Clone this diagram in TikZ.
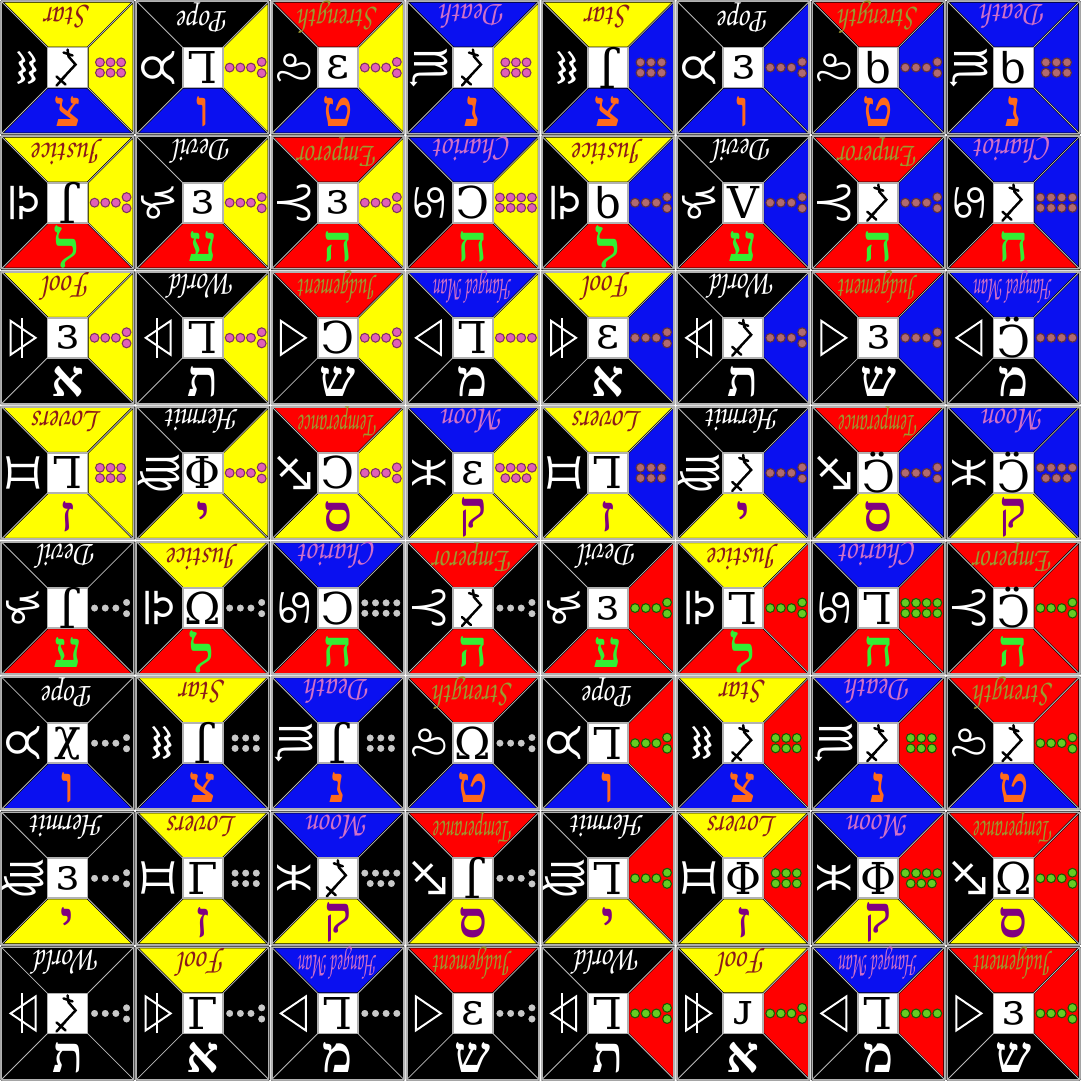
\documentclass[tikz,border=0pt]{standalone}
\usepackage[T1,TU]{fontenc}
\usepackage{fontspec}
\newfontfamily\hebf[Script=Hebrew]{Liberation Serif}
\newfontfamily\symf{DejaVu Sans}
\newfontfamily\glf{DejaVu Serif}
\newcommand\scrf{\fontencoding{T1}\fontfamily{pzc}\fontseries{mb}\fontshape{it}\selectfont}
\newsavebox\nmbox
\newcommand\fitname[1]{\sbox\nmbox{#1}\ifdim\wd\nmbox>0.95cm\resizebox{0.78cm}{\ht\nmbox}{\usebox\nmbox}\else\scalebox{0.82}[1]{\usebox\nmbox}\fi}
\definecolor{fillY}{HTML}{FFFF00}
\definecolor{fillB}{HTML}{0A10F0}
\definecolor{fillR}{HTML}{FF0000}
\definecolor{fillK}{HTML}{000000}
\definecolor{ttxtY}{HTML}{8B1A1A}
\definecolor{ttxtK}{HTML}{FFFFFF}
\definecolor{ttxtR}{HTML}{9A9A30}
\definecolor{ttxtB}{HTML}{D070C8}
\definecolor{letY}{HTML}{800080}
\definecolor{letK}{HTML}{FFFFFF}
\definecolor{letR}{HTML}{33EE33}
\definecolor{letB}{HTML}{FF6A1A}
\definecolor{dotfY}{HTML}{E060B8}
\definecolor{dotdY}{HTML}{803060}
\definecolor{dotfB}{HTML}{B06A70}
\definecolor{dotdB}{HTML}{603040}
\definecolor{dotfK}{HTML}{C8C8C8}
\definecolor{dotfR}{HTML}{66CC22}
\definecolor{dotdR}{HTML}{1A5A00}
\tikzset{
 edge/.style={draw=black, line width=0.55pt, line join=round},
 diag/.style={draw=gray!55, line width=0.25pt},
 tileframe/.style={draw=gray!60, line width=0.4pt},
 sqbox/.style={draw=gray!60, fill=white, line width=0.5pt, minimum size=0.4cm, inner sep=0pt},
 cardtxt/.style={font=\scrf\fontsize{10}{10}\selectfont, rotate=180, inner sep=0pt},
 hebtxt/.style={font=\hebf\bfseries\fontsize{14.5}{14.5}\selectfont, inner sep=0pt},
 zodtxt/.style={font=\symf\fontsize{13}{13}\selectfont, text=white, rotate=-90, inner sep=0pt},
 elem/.style={draw=white, line width=0.55pt, line join=miter},
 gltxt/.style={font=\glf\fontsize{12.5}{13}\selectfont, inner sep=0pt},
 glpath/.style={draw=black, line width=0.7pt, line cap=round},
 dotY/.style={fill=dotfY, draw=dotdY, line width=0.3pt},
 dotB/.style={fill=dotfB, draw=dotdB, line width=0.3pt},
 dotK/.style={fill=dotfK},
 dotR/.style={fill=dotfR, draw=dotdR, line width=0.3pt}
}
% dot patterns
\newcommand\dotpativ[1]{\foreach \a/\b in {-16/0,-5.3/0,5.3/0,16/0}{\filldraw[#1] (43+\a,\b) circle (4.4);}}
\newcommand\dotpatv[1]{\foreach \a/\b in {-16/0,-5.3/0,5.3/0,16/5.6,16/-5.6}{\filldraw[#1] (43+\a,\b) circle (4.4);}}
\newcommand\dotpatvi[1]{\foreach \a/\b in {-10.6/5.2,0/5.2,10.6/5.2,-10.6/-5.2,0/-5.2,10.6/-5.2}{\filldraw[#1] (43+\a,\b) circle (4.4);}}
\newcommand\dotpatvii[1]{\foreach \a/\b in {-16/5.2,-5.3/5.2,5.3/5.2,16/5.2,-10.6/-5.2,0/-5.2,10.6/-5.2}{\filldraw[#1] (43+\a,\b) circle (4.4);}}
\newcommand\dotpatviii[1]{\foreach \a/\b in {-16/5.2,-5.3/5.2,5.3/5.2,16/5.2,-16/-5.2,-5.3/-5.2,5.3/-5.2,16/-5.2}{\filldraw[#1] (43+\a,\b) circle (4.4);}}
% left symbols
\newcommand\zod[1]{\node[zodtxt] (zd-\tid) at (-44,0) {#1};}
\newcommand\elFire{\draw[elem] (-57,17) -- (-32,0) -- (-57,-17) -- cycle;}
\newcommand\elWater{\draw[elem] (-32,17) -- (-57,0) -- (-32,-17) -- cycle;}
\newcommand\elAir{\elFire\draw[elem] (-46,-20) -- (-46,20);}
\newcommand\elEarth{\elWater\draw[elem] (-46,-20) -- (-46,20);}
% centre glyphs
\newcommand\glyX{\draw[glpath] (-4,15)--(5,12) (0,18)--(1,11)--(8,3)--(-6,-12) (-11,-18)--(-2,-8) (-11,-9)--(-2,-17);}
\newcommand\glyL{\node[gltxt] (gl-\tid) at (0,0) {\rotatebox{180}{L}};}
\newcommand\glyE{\node[gltxt] (gl-\tid) at (0,0) {ɜ};}
\newcommand\glyEps{\node[gltxt] (gl-\tid) at (0,0) {ε};}
\newcommand\glyC{\node[gltxt] (gl-\tid) at (0,0) {\scalebox{-1}[1]{C}};}
\newcommand\glyCd{\node[gltxt] (gl-\tid) at (0,0) {\scalebox{-1}[1]{C̈}};}
\newcommand\glyJ{\node[gltxt] (gl-\tid) at (0,0) {\rotatebox{180}{J}};}
\newcommand\glyB{\node[gltxt] (gl-\tid) at (0,0) {\scalebox{1}[-1]{ρ}};}
\newcommand\glyV{\node[gltxt] (gl-\tid) at (0,0) {V};}
\newcommand\glyO{\node[gltxt] (gl-\tid) at (0,0) {Ω};}
\newcommand\glyP{\node[gltxt] (gl-\tid) at (0,0) {Φ};}
\newcommand\glyK{\node[gltxt] (gl-\tid) at (0,0) {χ};}
\newcommand\glyG{\node[gltxt] (gl-\tid) at (0,0) {Γ};}
\newcommand\glyS{\node[gltxt] (gl-\tid) at (0,0) {\rotatebox{180}{ɾ}};}
% tile: #1 col #2 row #3 glyph #4 name #5 top #6 bottom #7 hebrew #8 left #9 dots
\newcommand\drawtile[9]{%
 \pgfmathsetmacro\cx{135.125*(#1+0.5)}%
 \pgfmathsetmacro\cy{1081-135.125*(#2+0.5)}%
 \def\tid{#1-#2}%
 \ifnum#2<4 \ifnum#1<4 \def\rk{Y}\else\def\rk{B}\fi\else\ifnum#1<4 \def\rk{K}\else\def\rk{R}\fi\fi
 \begin{scope}[shift={(\cx,\cy)}]
  \fill[black] (-66,-66) rectangle (66,66);
  \filldraw[fill=fill#5, edge] (-66,66) -- (66,66) -- (20,20) -- (-20,20) -- cycle;
  \filldraw[fill=fill#6, edge] (-66,-66) -- (66,-66) -- (20,-20) -- (-20,-20) -- cycle;
  \filldraw[fill=fill\rk, edge] (66,66) -- (66,-66) -- (20,-20) -- (20,20) -- cycle;
  \filldraw[fill=black, edge] (-66,66) -- (-66,-66) -- (-20,-20) -- (-20,20) -- cycle;
  \draw[diag] (-66,66)--(-20,20) (66,66)--(20,20) (66,-66)--(20,-20) (-66,-66)--(-20,-20);
  \draw[tileframe] (-66,-66) rectangle (66,66);
  \node[sqbox] (sq-\tid) at (0,0) {};
  \node[cardtxt, text=ttxt#5] (nm-\tid) at (0,51) {\fitname{#4}};
  \node[hebtxt, text=let#6] (hb-\tid) at (0,-44) {#7};
  #8
  \csname dotpat\romannumeral#9\endcsname{dot\rk}
  #3
 \end{scope}}
\newcommand\cStar[3]{\drawtile{#1}{#2}{#3}{Star}{Y}{B}{צ}{\zod{♒}}{6}}
\newcommand\cPope[3]{\drawtile{#1}{#2}{#3}{Pope}{K}{B}{ו}{\zod{♉}}{5}}
\newcommand\cStrength[3]{\drawtile{#1}{#2}{#3}{Strength}{R}{B}{ט}{\zod{♌}}{5}}
\newcommand\cDeath[3]{\drawtile{#1}{#2}{#3}{Death}{B}{B}{נ}{\zod{♏}}{6}}
\newcommand\cJustice[3]{\drawtile{#1}{#2}{#3}{Justice}{Y}{R}{ל}{\zod{♎}}{5}}
\newcommand\cDevil[3]{\drawtile{#1}{#2}{#3}{Devil}{K}{R}{ע}{\zod{♑}}{5}}
\newcommand\cEmperor[3]{\drawtile{#1}{#2}{#3}{Emperor}{R}{R}{ה}{\zod{♈}}{5}}
\newcommand\cChariot[3]{\drawtile{#1}{#2}{#3}{Chariot}{B}{R}{ח}{\zod{♋}}{8}}
\newcommand\cFool[3]{\drawtile{#1}{#2}{#3}{Fool}{Y}{K}{א}{\elAir}{5}}
\newcommand\cWorld[3]{\drawtile{#1}{#2}{#3}{World}{K}{K}{ת}{\elEarth}{5}}
\newcommand\cJudgement[3]{\drawtile{#1}{#2}{#3}{Judgement}{R}{K}{ש}{\elFire}{5}}
\newcommand\cHanged[3]{\drawtile{#1}{#2}{#3}{Hanged Man}{B}{K}{מ}{\elWater}{4}}
\newcommand\cLovers[3]{\drawtile{#1}{#2}{#3}{Lovers}{Y}{Y}{ז}{\zod{♊}}{6}}
\newcommand\cHermit[3]{\drawtile{#1}{#2}{#3}{Hermit}{K}{Y}{י}{\zod{♍}}{5}}
\newcommand\cTemperance[3]{\drawtile{#1}{#2}{#3}{Temperance}{R}{Y}{ס}{\zod{♐}}{5}}
\newcommand\cMoon[3]{\drawtile{#1}{#2}{#3}{Moon}{B}{Y}{ק}{\zod{♓}}{7}}
\begin{document}
\begin{tikzpicture}[x=0.01cm, y=0.01cm]
\useasboundingbox (0,0) rectangle (1081,1081);
\fill[white] (0,0) rectangle (1081,1081);
% row 0
\cStar{0}{0}{\glyX}\cPope{1}{0}{\glyL}\cStrength{2}{0}{\glyEps}\cDeath{3}{0}{\glyX}
\cStar{4}{0}{\glyJ}\cPope{5}{0}{\glyE}\cStrength{6}{0}{\glyB}\cDeath{7}{0}{\glyB}
% row 1
\cJustice{0}{1}{\glyJ}\cDevil{1}{1}{\glyE}\cEmperor{2}{1}{\glyE}\cChariot{3}{1}{\glyC}
\cJustice{4}{1}{\glyB}\cDevil{5}{1}{\glyV}\cEmperor{6}{1}{\glyX}\cChariot{7}{1}{\glyX}
% row 2
\cFool{0}{2}{\glyE}\cWorld{1}{2}{\glyL}\cJudgement{2}{2}{\glyC}\cHanged{3}{2}{\glyL}
\cFool{4}{2}{\glyEps}\cWorld{5}{2}{\glyX}\cJudgement{6}{2}{\glyE}\cHanged{7}{2}{\glyCd}
% row 3
\cLovers{0}{3}{\glyL}\cHermit{1}{3}{\glyP}\cTemperance{2}{3}{\glyC}\cMoon{3}{3}{\glyEps}
\cLovers{4}{3}{\glyL}\cHermit{5}{3}{\glyX}\cTemperance{6}{3}{\glyCd}\cMoon{7}{3}{\glyCd}
% row 4
\cDevil{0}{4}{\glyJ}\cJustice{1}{4}{\glyO}\cChariot{2}{4}{\glyC}\cEmperor{3}{4}{\glyX}
\cDevil{4}{4}{\glyE}\cJustice{5}{4}{\glyL}\cChariot{6}{4}{\glyL}\cEmperor{7}{4}{\glyCd}
% row 5
\cPope{0}{5}{\glyK}\cStar{1}{5}{\glyJ}\cDeath{2}{5}{\glyJ}\cStrength{3}{5}{\glyO}
\cPope{4}{5}{\glyL}\cStar{5}{5}{\glyX}\cDeath{6}{5}{\glyX}\cStrength{7}{5}{\glyX}
% row 6
\cHermit{0}{6}{\glyE}\cLovers{1}{6}{\glyG}\cMoon{2}{6}{\glyX}\cTemperance{3}{6}{\glyJ}
\cHermit{4}{6}{\glyL}\cLovers{5}{6}{\glyP}\cMoon{6}{6}{\glyP}\cTemperance{7}{6}{\glyO}
% row 7
\cWorld{0}{7}{\glyX}\cFool{1}{7}{\glyG}\cHanged{2}{7}{\glyL}\cJudgement{3}{7}{\glyEps}
\cWorld{4}{7}{\glyL}\cFool{5}{7}{\glyS}\cHanged{6}{7}{\glyL}\cJudgement{7}{7}{\glyE}
\end{tikzpicture}
\end{document}
